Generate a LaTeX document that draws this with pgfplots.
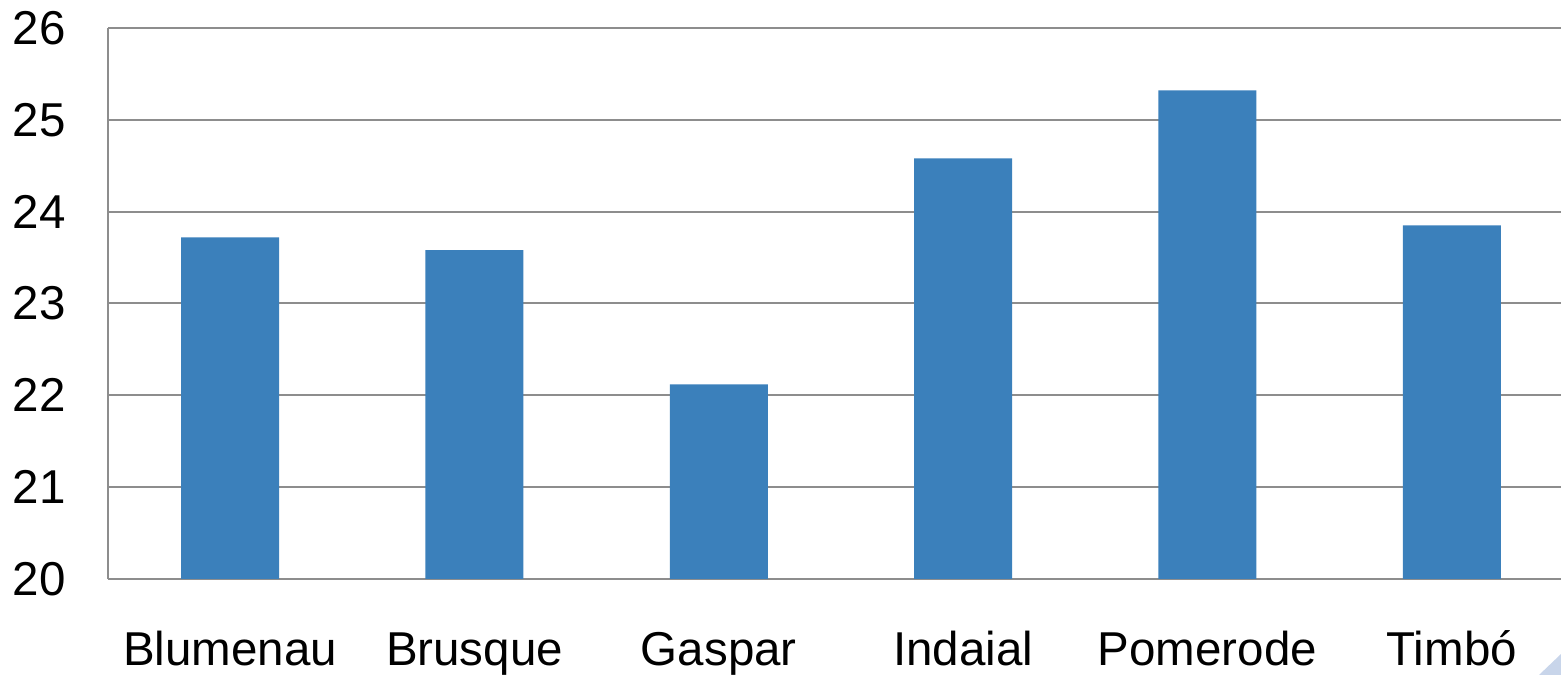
\documentclass[border=0pt]{standalone}
\usepackage{fontspec}
\setmainfont{Liberation Sans}
\usepackage{pgfplots}
\pgfplotsset{compat=1.18}
\definecolor{barblue}{HTML}{3B80BB}
\definecolor{gridgray}{HTML}{8D8D8D}
\definecolor{cornerblue}{HTML}{C8D5EA}
\begin{document}
\begin{tikzpicture}
\begin{axis}[
    at={(108bp,96bp)}, anchor=south west,
    width=1453bp, height=551bp,
    scale only axis,
    ybar, bar width=98bp,
    xmin=-0.5, xmax=5.447,
    ymin=20, ymax=26,
    ytick distance=1,
    xtick=data,
    xticklabels={Blumenau, Brusque, Gaspar, Indaial, Pomerode, Timbó},
    axis lines=left,
    axis line style={-, draw=gridgray, line width=2bp},
    ymajorgrids=true,
    grid style={draw=gridgray, line width=2bp},
    major tick length=0pt,
    /pgf/number format/assume math mode=true,
    tick label style={font=\fontsize{47.5bp}{52bp}\selectfont, inner sep=0pt},
    yticklabel style={anchor=east, xshift=-42bp},
    xticklabel style={anchor=base, yshift=-86bp},
]
\addplot[fill=barblue, draw=none] coordinates {
    (0,23.72) (1,23.58) (2,22.12) (3,24.58) (4,25.32) (5,23.85)
};
\end{axis}
\fill[cornerblue] (1539bp,0) -- (1561bp,0) -- (1561bp,21bp) -- cycle;
\pgfresetboundingbox
\path (0,0) rectangle (1561bp,675bp);
\end{tikzpicture}
\end{document}
